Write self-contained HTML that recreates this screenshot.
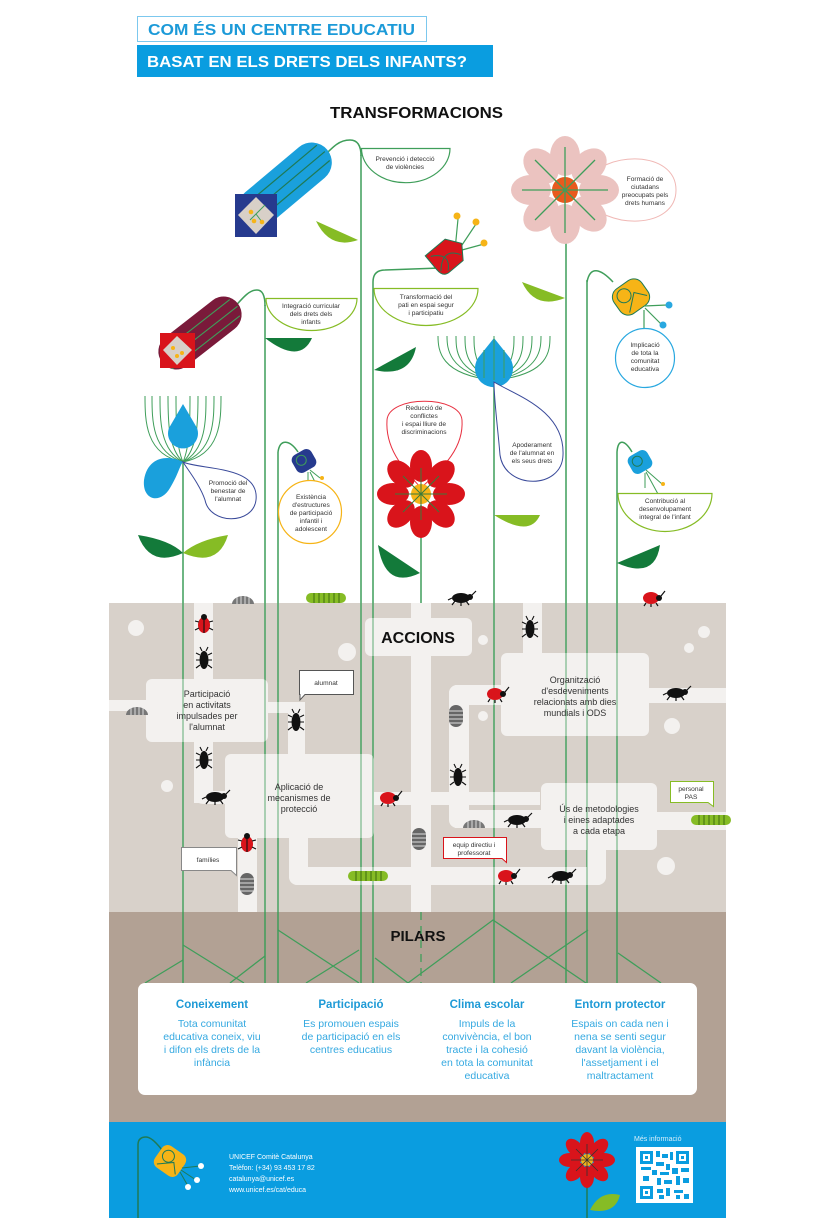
<!DOCTYPE html>
<html><head><meta charset="utf-8"><style>
html,body{margin:0;padding:0;background:#fff}
svg{display:block}
text{font-family:"Liberation Sans",sans-serif}
.lb{font-size:6.6px;fill:#333;text-anchor:middle}
.bx{font-size:9px;fill:#333;text-anchor:middle}
.st{stroke:#3f9e5a;stroke-width:1.5;fill:none}
.pt{font-size:10.5px;fill:#35a9e1;text-anchor:middle}
.ph{font-size:11.5px;font-weight:bold;fill:#1e9ad6;text-anchor:middle}
.ft{font-size:7px;fill:#fff}
</style></head><body>
<svg width="826" height="1220" viewBox="0 0 826 1220" xmlns="http://www.w3.org/2000/svg">
<defs>
<g id="beetle"><ellipse cx="0" cy="0" rx="9" ry="5" fill="#111"/><circle cx="9" cy="-1" r="3" fill="#111"/><path d="M-6,3 l-3,4 M0,4 l0,4 M5,3 l3,4 M11,-3 l4,-4 M-9,0 l-4,2" stroke="#111" stroke-width="1.2"/></g>
<g id="lady"><ellipse cx="0" cy="0" rx="8" ry="6" fill="#d9141b"/><circle cx="8" cy="0" r="3" fill="#111"/><path d="M-5,5 l-2,3 M0,6 l0,3 M5,5 l2,3 M10,-2 l4,-5" stroke="#111" stroke-width="1.2"/></g>
<g id="pill"><path d="M-11,4 A11,8 0 0 1 11,4 Z" fill="#777"/><path d="M-6,4 V-3 M-2,4 V-4 M2,4 V-4 M6,4 V-3" stroke="#ddd" stroke-width="1"/></g>
<g id="cat"><rect x="-20" y="-5" width="40" height="10" rx="5" fill="#86bc25"/><path d="M-12,-5 V5 M-7,-5 V5 M-2,-5 V5 M3,-5 V5 M8,-5 V5 M13,-5 V5" stroke="#3d6b10" stroke-width="1"/></g>
<g id="vbug"><ellipse cx="0" cy="0" rx="4.5" ry="9" fill="#111"/><path d="M-4,-5 l-4,-2 M4,-5 l4,-2 M-4,0 l-4,0 M4,0 l4,0 M-4,5 l-4,3 M4,5 l4,3 M-2,-9 l-2,-4 M2,-9 l2,-4" stroke="#111" stroke-width="1.1"/></g>
<g id="vlady"><ellipse cx="0" cy="0" rx="6" ry="8" fill="#d9141b"/><circle cx="0" cy="-8" r="3" fill="#111"/><path d="M-5,-3 l-4,-1 M5,-3 l4,-1 M-5,3 l-4,2 M5,3 l4,2 M0,-8 V8" stroke="#111" stroke-width="1.1"/></g>
<g id="vpill"><rect x="-7" y="-11" width="14" height="22" rx="7" fill="#666"/><path d="M-7,-5 H7 M-7,-1 H7 M-7,3 H7 M-7,7 H7" stroke="#ddd" stroke-width="1"/></g>
</defs>

<!-- header -->
<rect x="137.5" y="16.5" width="289" height="25" fill="#fff" stroke="#7cc8ee"/>
<text x="148" y="35" textLength="267" lengthAdjust="spacingAndGlyphs" style="font-size:16px;font-weight:bold;fill:#1c9ad8">COM ÉS UN CENTRE EDUCATIU</text>
<rect x="137" y="45" width="356" height="32" fill="#0a9de0"/>
<text x="147" y="67" textLength="320" lengthAdjust="spacingAndGlyphs" style="font-size:16px;font-weight:bold;fill:#fff">BASAT EN ELS DRETS DELS INFANTS?</text>
<text x="330" y="118" textLength="173" lengthAdjust="spacingAndGlyphs" style="font-size:16px;font-weight:bold;fill:#111">TRANSFORMACIONS</text>

<!-- ground -->
<rect x="109" y="603" width="617" height="310" fill="#d8d1ca"/>
<rect x="109" y="912" width="617" height="211" fill="#b2a194"/>
<rect x="109" y="1122" width="617" height="96" fill="#0a9de0"/>

<!-- stems -->
<g class="st">
<path d="M183,462 V983"/><path d="M265,305 V983"/><path d="M278,452 V983"/>
<path d="M361,155 V983"/><path d="M373,282 V983"/><path d="M421,505 V603"/>
<path d="M494,380 V983"/><path d="M566,205 V983"/><path d="M587,280 V983"/><path d="M617,452 V983"/>
<path d="M318,162 C332,148 338,140 350,140 C358,140 361,146 361,156"/>
<path d="M232,310 C245,295 250,290 257,290 C263,290 265,296 265,306"/>
<path d="M440,268 L385,270 Q373,270 373,282"/>
<path d="M613,282 C600,268 590,266 587,282"/>
<path d="M298,452 C290,440 280,438 278,452"/>
<path d="M632,452 C625,440 618,438 617,452"/>
</g>

<!-- paths in ground -->
<g fill="#f3f1ef">
<rect x="194" y="603" width="19" height="200"/>
<path d="M194,780 V795 Q194,804 205,804 H240 V791 H213 V780Z"/>
<rect x="109" y="700" width="40" height="11"/>
<rect x="265" y="702" width="40" height="11"/>
<rect x="288" y="702" width="17" height="60"/>
<rect x="411" y="603" width="20" height="309"/>
<rect x="370" y="792" width="170" height="13"/>
<rect x="449" y="685" width="20" height="143" rx="8"/>
<rect x="449" y="685" width="60" height="20" rx="8"/>
<rect x="455" y="810" width="90" height="18"/>
<rect x="640" y="688" width="86" height="15"/>
<rect x="650" y="812" width="76" height="18"/>
<rect x="523" y="603" width="19" height="55"/>
<rect x="289" y="830" width="19" height="55" rx="8"/>
<rect x="289" y="867" width="317" height="18" rx="9"/>
<rect x="587" y="840" width="19" height="45" rx="8"/>
<rect x="238" y="830" width="19" height="82"/>
</g>
<g fill="#f3f1ef">
<rect x="365" y="618" width="107" height="38" rx="6"/>
<rect x="146" y="679" width="122" height="63" rx="6"/>
<rect x="225" y="754" width="149" height="84" rx="6"/>
<rect x="501" y="653" width="148" height="83" rx="6"/>
<rect x="541" y="783" width="116" height="67" rx="6"/>
<circle cx="136" cy="628" r="8"/><circle cx="347" cy="652" r="9"/><circle cx="167" cy="786" r="6"/>
<circle cx="483" cy="640" r="5"/><circle cx="483" cy="716" r="5"/><circle cx="672" cy="726" r="8"/>
<circle cx="704" cy="632" r="6"/><circle cx="689" cy="648" r="5"/><circle cx="666" cy="866" r="9"/>
</g>
<g stroke="#5aaa70" stroke-width="1.2" opacity="0.8">
<path d="M183,603 V912 M265,603 V912 M278,603 V912 M361,603 V912 M373,603 V912 M494,603 V912 M566,603 V912 M587,603 V912 M617,603 V912"/>
</g>
<text x="418" y="643" style="font-size:16px;font-weight:bold;fill:#111;text-anchor:middle">ACCIONS</text>
<text class="bx"><tspan x="207" y="697">Participació</tspan><tspan x="207" y="708">en activitats</tspan><tspan x="207" y="719">impulsades per</tspan><tspan x="207" y="730">l'alumnat</tspan></text>
<text class="bx"><tspan x="299" y="790">Aplicació de</tspan><tspan x="299" y="801">mecanismes de</tspan><tspan x="299" y="812">protecció</tspan></text>
<text class="bx"><tspan x="575" y="683">Organització</tspan><tspan x="575" y="694">d'esdeveniments</tspan><tspan x="575" y="705">relacionats amb dies</tspan><tspan x="575" y="716">mundials i ODS</tspan></text>
<text class="bx"><tspan x="599" y="812">Ús de metodologies</tspan><tspan x="599" y="823">i eines adaptades</tspan><tspan x="599" y="834">a cada etapa</tspan></text>

<!-- speech labels -->
<path d="M299.5,670.5 H353.5 V694.5 H305 L300,700 V694.5 H299.5Z" fill="#fff" stroke="#555"/>
<text class="lb" x="326" y="685">alumnat</text>
<path d="M181.5,847.5 H236.5 V875.5 L231,870.5 H181.5Z" fill="#fff" stroke="#888"/>
<text class="lb" x="208" y="862">famílies</text>
<path d="M443.5,837.5 H506.5 V862.5 L502,858.5 H443.5Z" fill="#fff" stroke="#d9141b"/>
<text class="lb"><tspan x="474" y="847">equip directiu i</tspan><tspan x="474" y="855">professorat</tspan></text>
<path d="M670.5,781.5 H713.5 V806.5 L708,802.5 H670.5Z" fill="#fff" stroke="#86bc25"/>
<text class="lb"><tspan x="691" y="791">personal</tspan><tspan x="691" y="799">PAS</tspan></text>

<!-- bugs -->
<use href="#pill" x="243" y="600"/><use href="#cat" x="326" y="598"/><use href="#beetle" x="461" y="598"/><use href="#lady" x="651" y="598"/>
<use href="#vlady" x="204" y="625"/><use href="#vbug" x="204" y="660"/><use href="#vbug" x="296" y="722"/><use href="#vbug" x="204" y="760"/>
<use href="#beetle" x="215" y="797"/><use href="#lady" x="388" y="798"/><use href="#pill" x="137" y="711"/>
<use href="#lady" x="495" y="694"/><use href="#beetle" x="676" y="693"/><use href="#vpill" x="456" y="716"/><use href="#vbug" x="458" y="777"/>
<use href="#pill" x="474" y="824"/><use href="#beetle" x="517" y="820"/><use href="#cat" x="711" y="820"/><use href="#vpill" x="419" y="839"/>
<use href="#vlady" x="247" y="844"/><use href="#vpill" x="247" y="884"/><use href="#cat" x="368" y="876"/><use href="#lady" x="506" y="876"/><use href="#beetle" x="561" y="876"/>
<use href="#vbug" x="530" y="629"/>

<!-- flower 1 blue capsule -->
<g transform="translate(285,185) rotate(-40)">
<rect x="-55" y="-20" width="110" height="40" rx="20" fill="#1aa0dc"/>
<path d="M-50,-10 H50 M-50,0 H52 M-50,10 H50" stroke="#1f7a55" stroke-width="1.2"/>
</g>
<rect x="235" y="194" width="42" height="43" fill="#263a8e"/>
<path d="M256,197 L274,215 L256,234 L238,215Z" fill="#d8d0c8"/>
<path d="M250,220 L265,205 M256,214 L262,222" stroke="#3f9e5a"/><circle cx="251" cy="212" r="2.3" fill="#f6b417"/><circle cx="254" cy="221" r="2.3" fill="#f6b417"/><circle cx="262" cy="222" r="2.3" fill="#f6b417"/>
<path d="M361.5,148.5 H450 A44,34 0 0 1 361.5,148.5Z" fill="#fff" stroke="#3f9e5a" stroke-width="1.2"/>
<text class="lb"><tspan x="405" y="161">Prevenció i detecció</tspan><tspan x="405" y="169">de violències</tspan></text>
<path d="M316,221 Q330,250 358,240 Z" fill="#86bc25"/>

<!-- flower 2 maroon capsule -->
<g transform="translate(200,333) rotate(-38)">
<rect x="-48" y="-18" width="96" height="36" rx="18" fill="#7a1a3a"/>
<path d="M-44,-8 H44 M-44,2 H46 M-44,11 H42" stroke="#3f9e5a" stroke-width="1.1"/>
</g>
<rect x="160" y="333" width="35" height="35" fill="#d9141b"/>
<path d="M177,336 L192,350 L177,365 L163,350Z" fill="#d8d0c8"/>
<circle cx="173" cy="348" r="2" fill="#f6b417"/><circle cx="177" cy="356" r="2" fill="#f6b417"/><circle cx="182" cy="353" r="2" fill="#f6b417"/>
<path d="M266,298.5 H357 A45.5,32 0 0 1 266,298.5Z" fill="#fff" stroke="#86bc25" stroke-width="1.2"/>
<text class="lb"><tspan x="311" y="308">Integració curricular</tspan><tspan x="311" y="316">dels drets dels</tspan><tspan x="311" y="324">infants</tspan></text>
<path d="M265,338 H312 Q300,365 265,338Z" fill="#137a3a"/>

<!-- flower 3 red bell -->
<path d="M455,250 L458,219 M460,248 L476,224 M462,250 L484,244" stroke="#3f9e5a" stroke-width="1.2"/>
<circle cx="457" cy="216" r="3.5" fill="#f6b417"/><circle cx="476" cy="222" r="3.5" fill="#f6b417"/><circle cx="484" cy="243" r="3.5" fill="#f6b417"/>
<g transform="translate(448,255) rotate(-40)"><path d="M-18,-14 H8 L18,0 L8,14 H-10 Q-18,14 -18,4Z" fill="#d9141b" stroke="#1f7a55" stroke-width="1"/><path d="M-14,-10 Q4,0 -10,12 M-16,8 Q0,-10 10,8" stroke="#1f7a55" fill="none"/></g>
<path d="M374,288.5 H478 A52,37 0 0 1 374,288.5Z" fill="#fff" stroke="#86bc25" stroke-width="1.2"/>
<text class="lb"><tspan x="426" y="299">Transformació del</tspan><tspan x="426" y="307">pati en espai segur</tspan><tspan x="426" y="315">i participatiu</tspan></text>
<path d="M374,370 L416,347 Q410,378 374,370Z" fill="#137a3a"/>

<!-- flower 4 pink -->
<path d="M585,182 C605,150 676,150 676,190 C676,230 605,230 585,198Z" fill="#fff" stroke="#f0b8b5" stroke-width="1"/>
<g transform="translate(565,190)" fill="#ebc3c0">
<ellipse cx="0" cy="-34" rx="15" ry="20"/><ellipse cx="0" cy="34" rx="15" ry="20"/><ellipse cx="-34" cy="0" rx="20" ry="15"/><ellipse cx="34" cy="0" rx="20" ry="15"/>
<ellipse cx="24" cy="-24" rx="15" ry="20" transform="rotate(45 24 -24)"/><ellipse cx="-24" cy="24" rx="15" ry="20" transform="rotate(45 -24 24)"/>
<ellipse cx="-24" cy="-24" rx="15" ry="20" transform="rotate(-45 -24 -24)"/><ellipse cx="24" cy="24" rx="15" ry="20" transform="rotate(-45 24 24)"/>
<circle r="13" fill="#e85a1e"/>
<path d="M0,-43 V43 M-43,0 H43 M-30,-30 L30,30 M-30,30 L30,-30" stroke="#3f9e5a" stroke-width="1.3"/>
</g>
<text class="lb"><tspan x="645" y="181">Formació de</tspan><tspan x="645" y="189">ciutadans</tspan><tspan x="645" y="197">preocupats pels</tspan><tspan x="645" y="205">drets humans</tspan></text>
<path d="M522,282 Q535,310 565,298 Z" fill="#86bc25"/>

<!-- flower 5 yellow bell -->
<g transform="translate(631,297) rotate(-35)"><rect x="-17" y="-15" width="34" height="30" rx="10" fill="#f6b417" stroke="#1f7a55" stroke-width="1"/><circle cx="-5" cy="-5" r="7" fill="none" stroke="#1f7a55"/><path d="M-10,12 L5,-2 L14,8" stroke="#1f7a55" fill="none"/></g>
<path d="M644,306 L667,305 M645,308 L662,325 M644,310 V328" stroke="#3f9e5a" stroke-width="1.2"/>
<circle cx="669" cy="305" r="3.5" fill="#29a8e0"/><circle cx="663" cy="325" r="3.5" fill="#29a8e0"/>
<circle cx="645" cy="358" r="29.5" fill="#fff" stroke="#29a8e0" stroke-width="1.2"/>
<text class="lb"><tspan x="645" y="347">Implicació</tspan><tspan x="645" y="355">de tota la</tspan><tspan x="645" y="363">comunitat</tspan><tspan x="645" y="371">educativa</tspan></text>

<!-- flower 6 blue dandelion center -->
<g stroke="#3f9e5a" stroke-width="1" fill="none">
<path d="M494,380 C440,375 438,350 438,336 M494,380 C448,372 447,348 447,336 M494,380 C456,370 456,350 456,336 M494,380 C465,368 465,350 465,336 M494,380 C474,366 474,350 474,336 M494,380 C550,375 550,350 550,336 M494,380 C541,372 541,348 541,336 M494,380 C532,370 532,350 532,336 M494,380 C523,368 523,350 523,336 M494,380 C514,366 514,350 514,336"/>
</g>
<path d="M494,338 L510,358 A19,19 0 1 1 478,358Z" fill="#1aa0dc"/>
<path d="M494,380 L494,336 M484,378 V350 M504,378 V350" stroke="#3f9e5a" stroke-width="1"/>
<path d="M494,382 C515,395 565,410 563,455 C562,490 505,490 500,455 C498,430 494,400 494,382Z" fill="#fff" stroke="#3a4a9a" stroke-width="1"/>
<text class="lb"><tspan x="532" y="447">Apoderament</tspan><tspan x="532" y="455">de l'alumnat en</tspan><tspan x="532" y="463">els seus drets</tspan></text>
<path d="M494,515 H540 Q530,538 494,515Z" fill="#86bc25"/>

<!-- flower 7 red flower -->
<path d="M421,488 C405,470 385,450 387,420 C389,395 460,395 462,420 C464,450 440,470 421,488Z" fill="#fff" stroke="#e83040" stroke-width="1"/>
<text class="lb"><tspan x="424" y="410">Reducció de</tspan><tspan x="424" y="418">conflictes</tspan><tspan x="424" y="426">i espai lliure de</tspan><tspan x="424" y="434">discriminacions</tspan></text>
<g transform="translate(421,494)" fill="#d9141b">
<ellipse cx="0" cy="-28" rx="11" ry="16"/><ellipse cx="0" cy="28" rx="11" ry="16"/><ellipse cx="-28" cy="0" rx="16" ry="11"/><ellipse cx="28" cy="0" rx="16" ry="11"/>
<ellipse cx="20" cy="-20" rx="11" ry="16" transform="rotate(45 20 -20)"/><ellipse cx="-20" cy="20" rx="11" ry="16" transform="rotate(45 -20 20)"/>
<ellipse cx="-20" cy="-20" rx="11" ry="16" transform="rotate(-45 -20 -20)"/><ellipse cx="20" cy="20" rx="11" ry="16" transform="rotate(-45 20 20)"/>
<circle r="10" fill="#f6b417"/>
<path d="M0,-26 V26 M-26,0 H26 M-18,-18 L18,18 M-18,18 L18,-18" stroke="#3a7a3a" stroke-width="1"/>
</g>
<path d="M378,545 L420,573 Q385,590 378,545Z" fill="#137a3a"/>

<!-- flower 8 left dandelion -->
<g stroke="#3f9e5a" stroke-width="1" fill="none">
<path d="M183,462 C145,455 145,420 145,396 M183,462 C152,452 152,420 152,396 M183,462 C160,450 160,420 160,396 M183,462 C168,448 168,420 168,396 M183,462 C176,446 176,420 176,396 M183,462 C221,455 221,420 221,396 M183,462 C214,452 214,420 214,396 M183,462 C206,450 206,420 206,396 M183,462 C198,448 198,420 198,396 M183,462 C190,446 190,420 190,396"/>
</g>
<path d="M183,404 L197,428 A15,15 0 1 1 169,428Z" fill="#1aa0dc"/>
<path d="M183,462 C170,455 148,455 144,480 C142,500 160,505 170,488 C178,475 180,465 183,462Z" fill="#1aa0dc"/>
<path d="M183,462 C200,470 260,465 256,500 C253,525 210,525 205,500 C200,485 188,470 183,462Z" fill="#fff" stroke="#3a4a9a" stroke-width="1"/>
<text class="lb"><tspan x="228" y="485">Promoció del</tspan><tspan x="228" y="493">benestar de</tspan><tspan x="228" y="501">l'alumnat</tspan></text>
<path d="M138,535 Q170,540 183,553 Q150,568 138,535Z" fill="#137a3a"/>
<path d="M228,535 Q198,540 183,553 Q218,568 228,535Z" fill="#86bc25"/>

<!-- flower 9 navy bell -->
<g transform="translate(304,461) rotate(-30)"><rect x="-11" y="-10" width="22" height="20" rx="6" fill="#263a8e"/><circle cx="-2" cy="-2" r="5" fill="none" stroke="#3f9e5a"/></g>
<path d="M310,470 L320,478 M310,472 L316,484 M308,472 V480" stroke="#3f9e5a"/><circle cx="322" cy="478" r="2" fill="#f6b417"/><circle cx="317" cy="486" r="2" fill="#f6b417"/>
<circle cx="310" cy="512" r="31.5" fill="#fff" stroke="#f6b417" stroke-width="1.2"/>
<text class="lb"><tspan x="311" y="499">Existència</tspan><tspan x="311" y="507">d'estructures</tspan><tspan x="311" y="515">de participació</tspan><tspan x="311" y="523">infantil i</tspan><tspan x="311" y="531">adolescent</tspan></text>

<!-- flower 10 light blue bell -->
<g transform="translate(640,462) rotate(-30)"><rect x="-11" y="-10" width="22" height="20" rx="6" fill="#1aa0dc"/><circle cx="-2" cy="-2" r="5" fill="none" stroke="#1f7a55"/></g>
<path d="M646,470 L662,484 M646,472 L658,494 M645,473 V488" stroke="#3f9e5a"/><circle cx="663" cy="484" r="2" fill="#f6b417"/><circle cx="659" cy="496" r="2" fill="#f6b417"/>
<path d="M618,493.5 H712 A47,38 0 0 1 618,493.5Z" fill="#fff" stroke="#86bc25" stroke-width="1.2"/>
<text class="lb"><tspan x="665" y="503">Contribució al</tspan><tspan x="665" y="511">desenvolupament</tspan><tspan x="665" y="519">integral de l'infant</tspan></text>
<path d="M617,563 L660,545 Q655,580 617,563Z" fill="#137a3a"/>

<!-- pillars -->
<text x="418" y="941" style="font-size:15px;font-weight:bold;fill:#111;text-anchor:middle">PILARS</text>
<path d="M421,912 V983" stroke="#3f9e5a" stroke-width="1.3" stroke-dasharray="8,6"/>
<g stroke="#3f9e5a" stroke-width="1.3" fill="none">
<path d="M145,983 L183,960 M183,945 L244,983 M230,983 L265,956 M278,930 L359,983 M306,983 L359,950 M375,958 L408,983 L493,920 L586,983 M511,983 L588,930 M618,953 L661,983"/>
</g>
<rect x="138" y="983" width="559" height="112" rx="7" fill="#fff"/>
<text class="ph" x="212" y="1008">Coneixement</text>
<text class="ph" x="351" y="1008">Participació</text>
<text class="ph" x="487" y="1008">Clima escolar</text>
<text class="ph" x="620" y="1008">Entorn protector</text>
<text class="pt"><tspan x="212" y="1027">Tota comunitat</tspan><tspan x="212" y="1040">educativa coneix, viu</tspan><tspan x="212" y="1053">i difon els drets de la</tspan><tspan x="212" y="1066">infància</tspan></text>
<text class="pt"><tspan x="351" y="1027">Es promouen espais</tspan><tspan x="351" y="1040">de participació en els</tspan><tspan x="351" y="1053">centres educatius</tspan></text>
<text class="pt"><tspan x="487" y="1027">Impuls de la</tspan><tspan x="487" y="1040">convivència, el bon</tspan><tspan x="487" y="1053">tracte i la cohesió</tspan><tspan x="487" y="1066">en tota la comunitat</tspan><tspan x="487" y="1079">educativa</tspan></text>
<text class="pt"><tspan x="620" y="1027">Espais on cada nen i</tspan><tspan x="620" y="1040">nena se senti segur</tspan><tspan x="620" y="1053">davant la violència,</tspan><tspan x="620" y="1066">l'assetjament i el</tspan><tspan x="620" y="1079">maltractament</tspan></text>

<!-- footer -->
<path d="M138,1218 V1145 Q138,1137 146,1137 Q152,1137 162,1150" stroke="#1f7a55" stroke-width="1.5" fill="none"/>
<g transform="translate(170,1161) rotate(35)"><rect x="-14" y="-13" width="28" height="26" rx="7" fill="#f6b417"/><circle cx="-4" cy="-3" r="6" fill="none" stroke="#1f7a55"/><path d="M-9,10 L4,-1 L12,8" stroke="#1f7a55" fill="none"/></g>
<path d="M182,1168 L200,1166 M181,1170 L196,1180 M180,1172 L188,1186" stroke="#1f7a55"/>
<circle cx="201" cy="1166" r="3" fill="#fff"/><circle cx="197" cy="1180" r="3" fill="#fff"/><circle cx="188" cy="1187" r="3" fill="#fff"/>
<text class="ft"><tspan x="229" y="1159">UNICEF Comitè Catalunya</tspan><tspan x="229" y="1170">Telèfon: (+34) 93 453 17 82</tspan><tspan x="229" y="1181">catalunya@unicef.es</tspan><tspan x="229" y="1192">www.unicef.es/cat/educa</tspan></text>
<path d="M587,1160 V1218" stroke="#1f7a55" stroke-width="1.5"/>
<path d="M590,1210 Q600,1190 620,1195 Q615,1215 590,1210Z" fill="#86bc25"/>
<g transform="translate(587,1160)" fill="#d9141b">
<ellipse cx="0" cy="-17" rx="7" ry="11"/><ellipse cx="0" cy="17" rx="7" ry="11"/><ellipse cx="-17" cy="0" rx="11" ry="7"/><ellipse cx="17" cy="0" rx="11" ry="7"/>
<ellipse cx="12" cy="-12" rx="7" ry="11" transform="rotate(45 12 -12)"/><ellipse cx="-12" cy="12" rx="7" ry="11" transform="rotate(45 -12 12)"/>
<ellipse cx="-12" cy="-12" rx="7" ry="11" transform="rotate(-45 -12 -12)"/><ellipse cx="12" cy="12" rx="7" ry="11" transform="rotate(-45 12 12)"/>
<circle r="6" fill="#f6b417"/>
<path d="M0,-16 V16 M-16,0 H16 M-11,-11 L11,11 M-11,11 L11,-11" stroke="#333" stroke-width="0.8"/>
</g>
<text x="634" y="1141" style="font-size:7px;fill:#d8eefa">Més informació</text>
<rect x="636" y="1147" width="57" height="56" fill="#fff"/>
<g fill="#0a9de0">
<rect x="640" y="1151" width="13" height="13"/><rect x="676" y="1151" width="13" height="13"/><rect x="640" y="1186" width="13" height="13"/>
<rect x="643" y="1154" width="7" height="7" fill="#fff"/><rect x="679" y="1154" width="7" height="7" fill="#fff"/><rect x="643" y="1189" width="7" height="7" fill="#fff"/>
<rect x="645" y="1156" width="3" height="3"/><rect x="681" y="1156" width="3" height="3"/><rect x="645" y="1191" width="3" height="3"/>
<rect x="656" y="1151" width="4" height="6"/><rect x="662" y="1154" width="6" height="4"/><rect x="670" y="1152" width="3" height="8"/>
<rect x="656" y="1162" width="8" height="4"/><rect x="666" y="1164" width="4" height="6"/><rect x="641" y="1167" width="10" height="3"/>
<rect x="652" y="1170" width="5" height="5"/><rect x="660" y="1172" width="9" height="3"/><rect x="672" y="1168" width="6" height="6"/>
<rect x="681" y="1168" width="8" height="4"/><rect x="643" y="1176" width="6" height="5"/><rect x="657" y="1178" width="4" height="7"/>
<rect x="664" y="1180" width="8" height="4"/><rect x="676" y="1176" width="4" height="9"/><rect x="683" y="1178" width="6" height="5"/>
<rect x="657" y="1189" width="6" height="4"/><rect x="666" y="1188" width="4" height="8"/><rect x="674" y="1190" width="9" height="3"/>
<rect x="659" y="1195" width="5" height="4"/><rect x="676" y="1195" width="4" height="4"/><rect x="684" y="1194" width="5" height="5"/>
</g>
</svg>
</body></html>
